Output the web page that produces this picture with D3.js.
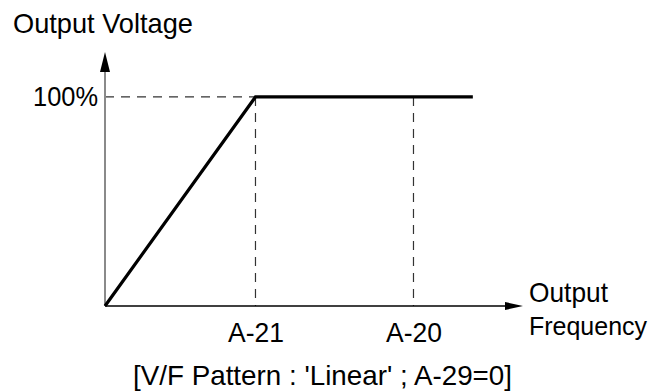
<!DOCTYPE html>
<html>
<head>
<meta charset="utf-8">
<script src="https://cdn.jsdelivr.net/npm/d3@7"></script>
<style>
  html, body { margin: 0; padding: 0; background: #fff; }
  svg { display: block; font-family: "Liberation Sans", Arial, sans-serif; }
</style>
</head>
<body>
<svg id="chart" width="656" height="392"></svg>
<script>
// ---- data ----
const xTickValues = [36, 73.8];            // positions of A-21 and A-20 (relative frequency units)
const xTickLabels = ["A-21", "A-20"];
const yTickValues = [100];
const yTickLabels = ["100%"];
const curveFreq = [0, 36, 88];             // output frequency points
const curveVolt = [0, 100, 100];           // output voltage (%)
const xAxisMax = 100;
const yAxisMax = 121.5;
const yAxisTitle = "Output Voltage";
const xAxisTitle = ["Output", "Frequency"];
const caption = "[V/F Pattern : 'Linear' ; A-29=0]";

// ---- layout ----
const FS = 28;
const svg = d3.select("#chart");
const x = d3.scaleLinear().domain([0, xAxisMax]).range([105, 523]);
const y = d3.scaleLinear().domain([0, yAxisMax]).range([306, 52]);

// dashed guide lines
const guides = svg.append("g")
  .attr("stroke", "#333").attr("stroke-width", 1.2)
  .attr("stroke-dasharray", "9,7").attr("fill", "none");
guides.append("line")
  .attr("x1", x(0)).attr("x2", x(xTickValues[0]))
  .attr("y1", y(yTickValues[0])).attr("y2", y(yTickValues[0]));
xTickValues.forEach(v => {
  guides.append("line")
    .attr("x1", x(v)).attr("x2", x(v))
    .attr("y1", y(yTickValues[0])).attr("y2", y(0));
});

// y axis (gray shaft, black arrowhead)
svg.append("line")
  .attr("x1", x(0)).attr("x2", x(0))
  .attr("y1", y(0)).attr("y2", y(yAxisMax) + 18)
  .attr("stroke", "#8a8a8a").attr("stroke-width", 2);
svg.append("path")
  .attr("d", `M${x(0)},${y(yAxisMax)} L${x(0) - 5},${y(yAxisMax) + 20} L${x(0) + 5},${y(yAxisMax) + 20} Z`)
  .attr("fill", "#000");

// x axis (black, arrowhead)
svg.append("line")
  .attr("x1", x(0)).attr("x2", x(xAxisMax) - 16)
  .attr("y1", y(0)).attr("y2", y(0))
  .attr("stroke", "#000").attr("stroke-width", 1.5);
svg.append("path")
  .attr("d", `M${x(xAxisMax)},${y(0)} L${x(xAxisMax) - 18},${y(0) - 4} L${x(xAxisMax) - 18},${y(0) + 4} Z`)
  .attr("fill", "#000");

// curve
const line = d3.line().x(d => x(d[0])).y(d => y(d[1]));
svg.append("path")
  .datum(curveFreq.map((f, i) => [f, curveVolt[i]]))
  .attr("d", line)
  .attr("fill", "none").attr("stroke", "#000")
  .attr("stroke-width", 3.2).attr("stroke-linejoin", "miter");

// tick labels through axes
const xAxis = d3.axisBottom(x).tickValues(xTickValues)
  .tickFormat((d, i) => xTickLabels[i]).tickSize(0).tickPadding(16);
const gx = svg.append("g").attr("transform", `translate(0,${y(0)})`).call(xAxis);
gx.select(".domain").remove();
gx.selectAll("text").attr("font-size", FS).attr("fill", "#000")
  .attr("font-family", "Liberation Sans, Arial, sans-serif")
  .attr("textLength", 56).attr("lengthAdjust", "spacingAndGlyphs");

const yAxis = d3.axisLeft(y).tickValues(yTickValues)
  .tickFormat((d, i) => yTickLabels[i]).tickSize(0).tickPadding(7);
const gy = svg.append("g").attr("transform", `translate(${x(0)},0)`).call(yAxis);
gy.select(".domain").remove();
gy.selectAll("text").attr("font-size", FS).attr("fill", "#000")
  .attr("font-family", "Liberation Sans, Arial, sans-serif")
  .attr("textLength", 65).attr("lengthAdjust", "spacingAndGlyphs");

// titles
function label(txt, px, py, len, fs) {
  svg.append("text").attr("x", px).attr("y", py)
    .attr("font-size", fs || FS).attr("fill", "#000")
    .attr("textLength", len).attr("lengthAdjust", "spacingAndGlyphs")
    .text(txt);
}
label(yAxisTitle, 13, 33, 180);
label(xAxisTitle[0], 529, 302, 79);
label(xAxisTitle[1], 529, 335, 118, 26);
label(caption, 133, 385, 379);
</script>
</body>
</html>
